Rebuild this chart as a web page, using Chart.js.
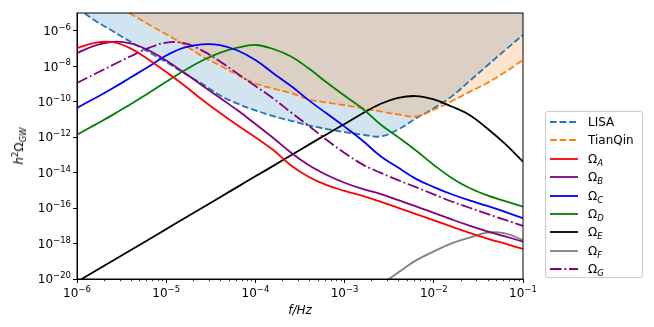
<!DOCTYPE html>
<html lang="en">
<head>
<meta charset="UTF-8">
<title>GW spectra vs LISA and TianQin</title>
<script src="https://cdn.jsdelivr.net/npm/chart.js@4.4.1/dist/chart.umd.min.js"></script>
<style>
  body { margin: 0; background: #fff; }
  #wrap { position: relative; width: 654px; height: 327px; font-family: 'DejaVu Sans', sans-serif; color: #000; }
  #ylabel { position: absolute; left: 19px; top: 146px; transform: translate(-50%, -50%) rotate(-90deg);
            font-size: 12px; white-space: nowrap; line-height: 1; }
  #ylabel sup, #legend sub, #ylabel sub { font-size: 8.5px; line-height: 0; }
  #ylabel sup { vertical-align: 5px; }
  #ylabel sub, #legend sub { vertical-align: -3px; font-style: italic; }
  #legend { position: absolute; left: 545px; top: 111px; width: 98px; height: 167px; box-sizing: border-box;
            border: 1px solid #ccc; border-radius: 3px; background: rgba(255,255,255,0.8); }
  .row { position: absolute; left: 4px; height: 18px; display: flex; align-items: center; font-size: 12px; white-space: nowrap; }
  .row svg { margin-right: 10px; }
</style>
</head>
<body>
<div id="wrap">
  <canvas id="chart" width="654" height="327"></canvas>
  <div id="ylabel"><i>h</i><sup>2</sup>Ω<sub>GW</sub></div>
  <div id="legend"></div>
</div>

<script>
// frequency grid (Hz), 0.2 decade steps
const freq = [1e-6, 1.585e-6, 2.512e-6, 3.981e-6, 6.310e-6,
              1e-5, 1.585e-5, 2.512e-5, 3.981e-5, 6.310e-5,
              1e-4, 1.585e-4, 2.512e-4, 3.981e-4, 6.310e-4,
              1e-3, 1.585e-3, 2.512e-3, 3.981e-3, 6.310e-3,
              1e-2, 1.585e-2, 2.512e-2, 3.981e-2, 6.310e-2, 1e-1];

const xTicks = [1e-6, 1e-5, 1e-4, 1e-3, 1e-2, 1e-1];
const yTicks = [1e-20, 1e-18, 1e-16, 1e-14, 1e-12, 1e-10, 1e-8, 1e-6];

// sensitivity curves
const lisa = [1.91e-5, 3.83e-6, 9.55e-7, 2.38e-7, 6.34e-8, 1.71e-8, 4.05e-9, 1.04e-9, 2.30e-10, 7.71e-11,
              3.24e-11, 1.54e-11, 8.28e-12, 4.55e-12, 2.85e-12, 1.93e-12, 1.38e-12, 1.09e-12, 2.71e-12, 1.13e-11,
              4.31e-11, 1.99e-10, 1.45e-9, 1.10e-8, 8.11e-8, 5.75e-7];
const tianqin = [null, null, 3.52e-5, 9.02e-6, 2.31e-6, 6.38e-7, 1.66e-7, 3.67e-8, 1.10e-8, 3.24e-9,
                 1.06e-9, 5.41e-10, 3.01e-10, 1.33e-10, 9.02e-11, 6.27e-11, 4.25e-11, 2.81e-11, 1.90e-11, 1.47e-11,
                 3.49e-11, 1.05e-10, 3.56e-10, 1.13e-9, 4.67e-9, 2.24e-8];

// spectra
const omegaA = [1.06e-7, 2.07e-7, 2.26e-7, 1.01e-7, 2.39e-8, 4.67e-9, 8.39e-10, 1.33e-10, 2.37e-11, 4.61e-12,
                9.73e-13, 1.87e-13, 2.54e-14, 5.69e-15, 1.96e-15, 9.25e-16, 4.90e-16, 2.31e-16, 1.03e-16, 4.61e-17,
                2.04e-17, 9.10e-18, 4.02e-18, 1.89e-18, 9.77e-19, 4.98e-19];
const omegaB = [5.56e-8, 1.45e-7, 2.38e-7, 1.93e-7, 7.89e-8, 2.10e-8, 4.37e-9, 8.51e-10, 1.66e-10, 3.24e-11,
                5.53e-12, 8.99e-13, 1.32e-13, 2.60e-14, 7.38e-15, 2.68e-15, 1.20e-15, 6.27e-16, 2.81e-16, 1.25e-16,
                5.32e-17, 2.29e-17, 1.02e-17, 4.82e-18, 2.52e-18, 1.28e-18];
const omegaC = [4.42e-11, 1.57e-10, 5.69e-10, 2.29e-9, 9.27e-9, 3.97e-8, 1.11e-7, 1.70e-7, 1.55e-7, 7.69e-8,
                2.24e-8, 4.05e-9, 7.57e-10, 1.18e-10, 2.13e-11, 3.90e-12, 6.50e-13, 8.57e-14, 1.91e-14, 4.45e-15,
                1.53e-15, 6.03e-16, 2.70e-16, 1.32e-16, 6.05e-17, 2.67e-17];
const omegaD = [1.38e-12, 4.92e-12, 1.80e-11, 7.23e-11, 2.97e-10, 1.32e-9, 5.52e-9, 2.02e-8, 5.64e-8, 1.11e-7,
                1.57e-7, 9.35e-8, 3.53e-8, 7.35e-9, 1.21e-9, 2.15e-10, 4.14e-11, 5.32e-12, 9.98e-13, 1.75e-13,
                2.70e-14, 5.00e-15, 1.36e-15, 5.16e-16, 2.46e-16, 1.21e-16];
const omegaE = [6.87e-21, 2.72e-20, 1.08e-19, 4.20e-19, 1.64e-18, 6.50e-18, 2.57e-17, 1.00e-16, 3.98e-16, 1.57e-15,
                6.15e-15, 2.40e-14, 9.53e-14, 3.77e-13, 1.47e-12, 5.53e-12, 2.16e-11, 7.41e-11, 1.62e-10, 2.07e-10,
                1.33e-10, 5.36e-11, 1.78e-11, 3.08e-12, 4.13e-13, 4.15e-14];
const omegaF = [null, null, null, null, null, null, null, null, null, null,
                null, null, null, null, null, null, null, 4.47e-21, 2.30e-20, 1.12e-19,
                3.60e-19, 1.02e-18, 2.13e-18, 4.13e-18, 3.72e-18, 1.60e-18];
const omegaG = [1.13e-9, 3.60e-9, 1.16e-8, 3.62e-8, 1.04e-7, 2.14e-7, 1.99e-7, 7.80e-8, 1.92e-8, 3.78e-9,
                7.67e-10, 1.51e-10, 2.46e-11, 4.27e-12, 6.93e-13, 1.28e-13, 2.92e-14, 9.95e-15, 3.76e-15, 1.50e-15,
                5.96e-16, 2.34e-16, 1.04e-16, 4.68e-17, 2.14e-17, 9.84e-18];

const pts = ys => freq.map((f, i) => ({ x: f, y: ys[i] }));
const dashed = [6.7, 2.9];
const dashDot = [11.5, 2.9, 1.8, 2.9];

// order: detectors drawn underneath, LISA fill first so the overlap mixes like the original
const datasets = [
  { label: 'LISA', data: pts(lisa), borderColor: '#1f77b4', borderDash: dashed, fill: 'end', backgroundColor: 'rgba(31,119,180,0.2)', order: 2 },
  { label: 'TianQin', data: pts(tianqin), borderColor: '#ff7f0e', borderDash: dashed, fill: 'end', backgroundColor: 'rgba(255,127,14,0.2)', order: 1 },
  { label: 'Ω_A', data: pts(omegaA), borderColor: '#ff0000' },
  { label: 'Ω_B', data: pts(omegaB), borderColor: '#800080' },
  { label: 'Ω_C', data: pts(omegaC), borderColor: '#0000ff' },
  { label: 'Ω_D', data: pts(omegaD), borderColor: '#008000' },
  { label: 'Ω_E', data: pts(omegaE), borderColor: '#000000' },
  { label: 'Ω_F', data: pts(omegaF), borderColor: '#808080' },
  { label: 'Ω_G', data: pts(omegaG), borderColor: '#800080', borderDash: dashDot }
];

const FONT = '"DejaVu Sans", sans-serif';

// draws 10^n labels, minor ticks and the box around the axes
const axesDecor = {
  id: 'axesDecor',
  afterDraw(chart) {
    const { ctx, chartArea: a, scales: { x, y } } = chart;
    ctx.save();
    ctx.strokeStyle = '#000';
    ctx.lineWidth = 1;
    ctx.strokeRect(a.left, a.top, a.right - a.left, a.bottom - a.top);

    // minor ticks on x
    ctx.beginPath();
    for (let d = -6; d < -1; d++) {
      for (let m = 2; m <= 9; m++) {
        const px = Math.round(x.getPixelForValue(m * Math.pow(10, d))) + 0.5;
        ctx.moveTo(px, a.bottom);
        ctx.lineTo(px, a.bottom + 2.2);
      }
    }
    ctx.lineWidth = 0.8;
    ctx.stroke();

    ctx.fillStyle = '#000';
    ctx.textBaseline = 'alphabetic';
    const powLabel = (v, px, base, align) => {
      const b = '10', s = '\u2212' + Math.abs(Math.round(Math.log10(v)));
      ctx.font = '12px ' + FONT;
      const wb = ctx.measureText(b).width;
      ctx.font = '8.5px ' + FONT;
      const ws = ctx.measureText(s).width;
      const left = align === 'center' ? px - (wb + ws) / 2 : px - wb - ws;
      ctx.font = '12px ' + FONT;
      ctx.fillText(b, left, base);
      ctx.font = '8.5px ' + FONT;
      ctx.fillText(s, left + wb, base - 5.2);
    };
    xTicks.forEach(v => powLabel(v, x.getPixelForValue(v), a.bottom + 17.7, 'center'));
    yTicks.forEach(v => powLabel(v, a.left - 6, y.getPixelForValue(v) + 4.3, 'right'));
    ctx.restore();
  }
};

const axisGrid = { drawOnChartArea: false, tickLength: 4, tickColor: '#000', tickWidth: 1 };

const chart = new Chart(document.getElementById('chart'), {
  type: 'line',
  data: { datasets },
  options: {
    responsive: false,
    animation: false,
    devicePixelRatio: 1,
    layout: { padding: { top: 13, right: 131, left: 0, bottom: 0 } },
    elements: {
      point: { radius: 0 },
      line: { borderWidth: 1.8, tension: 0.4 }
    },
    plugins: {
      legend: { display: false },
      tooltip: { enabled: false },
      filler: { drawTime: 'beforeDatasetsDraw' }
    },
    scales: {
      x: {
        type: 'logarithmic', min: 1e-6, max: 1e-1,
        afterBuildTicks: s => { s.ticks = xTicks.map(v => ({ value: v })); },
        afterFit: s => { s.height = 48; },
        ticks: { display: false },
        grid: axisGrid,
        border: { color: '#000', width: 1 },
        title: { display: true, text: 'f/Hz', color: '#000',
                 font: { family: FONT, size: 12, style: 'italic' }, padding: { top: 0, bottom: 9 } }
      },
      y: {
        type: 'logarithmic', min: 1e-20, max: 1e-5,
        afterBuildTicks: s => { s.ticks = yTicks.map(v => ({ value: v })); },
        afterFit: s => { s.width = 77; },
        ticks: { display: false },
        grid: axisGrid,
        border: { color: '#000', width: 1 }
      }
    }
  },
  plugins: [axesDecor]
});

// legend in the style of a matplotlib legend box
const legendEl = document.getElementById('legend');
chart.data.datasets.forEach((ds, i) => {
  const row = document.createElement('div');
  row.className = 'row';
  row.style.top = (1 + i * 18.4) + 'px';
  const dash = ds.borderDash ? ds.borderDash.join(' ') : 'none';
  const text = ds.label.replace(/_(\w+)/, '<sub>$1</sub>');
  row.innerHTML = '<svg width="28" height="6"><line x1="0" y1="3" x2="28" y2="3" stroke="' + ds.borderColor +
    '" stroke-width="1.8" stroke-dasharray="' + dash + '"/></svg><span>' + text + '</span>';
  legendEl.appendChild(row);
});
</script>
</body>
</html>
